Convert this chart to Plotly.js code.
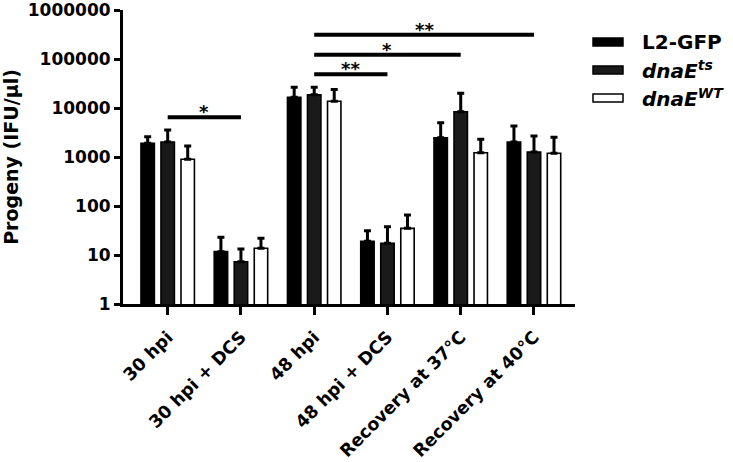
<!DOCTYPE html>
<html>
<head>
<meta charset="utf-8">
<script src="https://cdn.plot.ly/plotly-3.0.1.min.js"></script>
<style>html,body{margin:0;padding:0;background:#fff;}#chart{width:733px;height:462px;}</style>
</head>
<body>
<div id="chart"></div>
<script>
// ---- data ----
const categories = ["30 hpi", "30 hpi + DCS", "48 hpi", "48 hpi + DCS", "Recovery at 37°C", "Recovery at 40°C"];
const l2gfp      = [1900, 11.7, 16500, 19, 2480, 2020];
const l2gfpErr   = [700, 11.2, 10000, 12.3, 2520, 2260];
const dnaEts     = [2020, 7.3, 18700, 17.3, 8400, 1260];
const dnaEtsErr  = [1530, 6.0, 7800, 20.5, 11500, 1420];
const dnaEwt     = [900, 13.7, 13700, 35, 1225, 1190];
const dnaEwtErr  = [770, 8.2, 10300, 30.5, 1075, 1330];
const seriesNames = ["L2-GFP", "<i>dnaE<sup>ts</sup></i>", "<i>dnaE<sup>WT</sup></i>"];
const yTickVals = [1, 10, 100, 1000, 10000, 100000, 1000000];
const yTickText = ["1", "10", "100", "1000", "10000", "100000", "1000000"];
// significance brackets: [from category index, to category index, height, label]
const sigFrom   = [0, 2, 2, 2];
const sigTo     = [1, 3, 4, 5];
const sigHeight = [6460, 48700, 122000, 313000];
const sigLabel  = ["*", "**", "*", "**"];

const FONT = "DejaVu Sans, Liberation Sans, Arial, sans-serif";
const fills = ["#000000", "#1a1a1a", "#ffffff"];
const vals = [l2gfp, dnaEts, dnaEwt];
const errs = [l2gfpErr, dnaEtsErr, dnaEwtErr];

const traces = vals.map((v, i) => ({
  type: "bar",
  x: categories,
  y: v,
  name: seriesNames[i],
  marker: {color: fills[i], line: {color: "#000", width: 1.6}},
  error_y: {type: "data", symmetric: false, array: errs[i], arrayminus: v.map(() => 0),
            color: "#000", thickness: 3, width: 3.5},
  showlegend: false
}));

const shapes = [];
const annotations = [];
for (let k = 0; k < sigFrom.length; k++) {
  shapes.push({type: "line", xref: "x", yref: "y", x0: sigFrom[k], x1: sigTo[k],
               y0: sigHeight[k], y1: sigHeight[k], line: {color: "#000", width: 4}});
  annotations.push({xref: "x", yref: "y", x: (sigFrom[k] + sigTo[k]) / 2, y: Math.log10(sigHeight[k]),
                    text: sigLabel[k], showarrow: false, yanchor: "bottom", yshift: -7,
                    font: {family: FONT, size: 18, color: "#000", weight: "bold"}});
}

// legend drawn manually
const legY = [42, 70, 98];
for (let i = 0; i < 3; i++) {
  const py = legY[i];
  shapes.push({type: "rect", xref: "paper", yref: "paper",
               x0: (593 - 123) / 452, x1: (623 - 123) / 452,
               y0: (304 - (py + 4)) / 294, y1: (304 - (py - 4)) / 294,
               fillcolor: fills[i], line: {color: "#000", width: 1.5}});
  annotations.push({xref: "paper", yref: "paper", x: (640 - 123) / 452, y: (304 - py) / 294,
                    xanchor: "left", yanchor: "middle", showarrow: false, text: seriesNames[i],
                    font: {family: FONT, size: 20, color: "#000", weight: "bold"}});
}

const layout = {
  width: 733, height: 462,
  margin: {l: 123, r: 158, t: 10, b: 158},
  paper_bgcolor: "#fff", plot_bgcolor: "#fff",
  barmode: "group", bargap: 0.18, bargroupgap: 0.33,
  font: {family: FONT, color: "#000"},
  xaxis: {
    type: "category", range: [-0.61, 5.56],
    showline: true, linecolor: "#000", linewidth: 3, showgrid: false, zeroline: false,
    ticks: "outside", ticklen: 8, tickwidth: 3, tickcolor: "#000", ticklabelstandoff: 5,
    tickangle: -45, tickfont: {family: FONT, size: 17.5, color: "#000", weight: "bold"}
  },
  yaxis: {
    type: "log", range: [0, 6.0005],
    showline: true, linecolor: "#000", linewidth: 3, showgrid: false, zeroline: false,
    ticks: "outside", ticklen: 6, tickwidth: 3, tickcolor: "#000",
    tickvals: yTickVals, ticktext: yTickText, ticklabeloverflow: "allow",
    tickfont: {family: FONT, size: 17, color: "#000", weight: "bold"},
    title: {text: "Progeny (IFU/μl)", standoff: 8, font: {family: FONT, size: 19, color: "#000", weight: "bold"}}
  },
  shapes: shapes,
  annotations: annotations
};

Plotly.newPlot("chart", traces, layout, {displayModeBar: false, staticPlot: true});
</script>
</body>
</html>
